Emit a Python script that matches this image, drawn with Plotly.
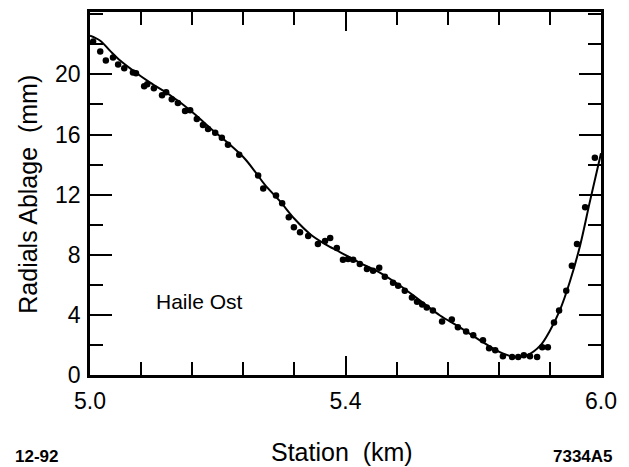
import plotly.graph_objects as go

# Measured points: station (km) and radial ablation (mm)
station_pts = [5.006, 5.020, 5.031, 5.045, 5.055, 5.067, 5.084, 5.090, 5.106, 5.112,
               5.125, 5.141, 5.149, 5.160, 5.172, 5.186, 5.196, 5.209, 5.221, 5.231,
               5.245, 5.258, 5.270, 5.292, 5.329, 5.339, 5.364, 5.376, 5.389, 5.399,
               5.411, 5.427, 5.446, 5.460, 5.470, 5.483, 5.495, 5.505, 5.515, 5.528,
               5.542, 5.554, 5.566, 5.577, 5.593, 5.603, 5.616, 5.630, 5.640, 5.650,
               5.659, 5.671, 5.689, 5.708, 5.720, 5.736, 5.750, 5.769, 5.781, 5.793,
               5.808, 5.826, 5.838, 5.849, 5.861, 5.875, 5.885, 5.896, 5.908, 5.918,
               5.932, 5.943, 5.953, 5.969, 5.988]
ablation_pts = [22.18, 21.52, 20.92, 21.12, 20.66, 20.40, 20.13, 20.07, 19.21, 19.34,
                19.08, 18.61, 18.81, 18.35, 18.09, 17.56, 17.62, 17.03, 16.63, 16.37,
                16.11, 15.78, 15.31, 14.65, 13.27, 12.41, 11.95, 11.42, 10.50, 9.83,
                9.50, 9.24, 8.71, 8.91, 9.11, 8.45, 7.66, 7.72, 7.66, 7.39,
                7.06, 6.93, 7.13, 6.53, 6.14, 5.94, 5.61, 5.15, 4.88, 4.69,
                4.49, 4.29, 3.56, 3.70, 3.17, 2.90, 2.64, 2.31, 1.78, 1.65,
                1.25, 1.19, 1.19, 1.32, 1.25, 1.19, 1.85, 1.85, 3.50, 4.29,
                5.61, 7.26, 8.71, 11.16, 14.46]

# Fitted curve
station_fit = [5.000, 5.020, 5.039, 5.059, 5.084, 5.117, 5.157, 5.196, 5.235, 5.274,
               5.303, 5.323, 5.342, 5.372, 5.401, 5.431, 5.460, 5.489, 5.528, 5.568,
               5.607, 5.646, 5.685, 5.724, 5.763, 5.802, 5.832, 5.857, 5.881, 5.900,
               5.920, 5.939, 5.959, 5.978, 6.000]
ablation_fit = [22.57, 22.24, 21.58, 20.92, 20.26, 19.47, 18.61, 17.62, 16.44, 15.31,
                14.39, 13.53, 12.67, 11.55, 10.36, 9.37, 8.71, 8.18, 7.46, 6.80,
                5.94, 4.95, 3.96, 3.17, 2.31, 1.52, 1.19, 1.34, 1.95, 2.95,
                4.35, 6.20, 8.60, 11.50, 14.75]

x_tickvals = [5.0, 5.5, 6.0]
x_ticktext = ["5.0", "5.4", "6.0"]
y_tickvals = [0, 4, 8, 12, 16, 20]

FONT = "Liberation Sans, Arial, Helvetica, sans-serif"

fig = go.Figure()
fig.add_trace(go.Scatter(x=station_fit, y=ablation_fit, mode="lines",
                         line=dict(color="black", width=2, shape="spline", smoothing=1.0),
                         showlegend=False, hoverinfo="skip"))
fig.add_trace(go.Scatter(x=station_pts, y=ablation_pts, mode="markers",
                         marker=dict(color="black", size=6.5),
                         showlegend=False))

axis_common = dict(showline=True, linecolor="black", linewidth=2.5, mirror="ticks",
                   ticks="inside", tickcolor="black", tickwidth=2,
                   showgrid=False, zeroline=False,
                   tickfont=dict(family=FONT, size=23, color="black"))

fig.update_xaxes(range=[5.0, 6.0], tickmode="array", tickvals=x_tickvals,
                 ticktext=x_ticktext, ticklen=19, ticklabelstandoff=4,
                 minor=dict(dtick=0.1, tick0=5.0, ticks="inside", ticklen=13,
                            tickwidth=2, tickcolor="black", showgrid=False),
                 **axis_common)
fig.update_yaxes(range=[0, 24.15], tickmode="array", tickvals=y_tickvals, ticklen=22,
                 ticklabelstandoff=2,
                 minor=dict(dtick=2, tick0=0, ticks="inside", ticklen=13,
                            tickwidth=2, tickcolor="black", showgrid=False),
                 **axis_common)

annots = [
    dict(text="Haile Ost", x=0.215, y=0.202, xref="paper", yref="paper",
         showarrow=False, xanchor="center", yanchor="middle",
         font=dict(family=FONT, size=21, color="black")),
    dict(text="Station\u00a0 (km)", x=0.493, y=-0.213, xref="paper", yref="paper",
         showarrow=False, xanchor="center", yanchor="middle",
         font=dict(family=FONT, size=25, color="black")),
    dict(text="Radials Ablage\u00a0 (mm)", x=-0.123, y=0.497, xref="paper", yref="paper",
         showarrow=False, xanchor="center", yanchor="middle", textangle=-90,
         font=dict(family=FONT, size=25, color="black")),
    dict(text="<b>12-92</b>", x=-0.1507, y=-0.224, xref="paper", yref="paper",
         showarrow=False, xanchor="left", yanchor="middle",
         font=dict(family=FONT, size=17, color="black")),
    dict(text="<b>7334A5</b>", x=1.0274, y=-0.224, xref="paper", yref="paper",
         showarrow=False, xanchor="right", yanchor="middle",
         font=dict(family=FONT, size=17, color="black")),
]

fig.update_layout(width=629, height=467, margin=dict(l=90, r=28, t=9, b=92),
                  plot_bgcolor="white", paper_bgcolor="white",
                  annotations=annots, showlegend=False)

fig.write_html("out.html")
